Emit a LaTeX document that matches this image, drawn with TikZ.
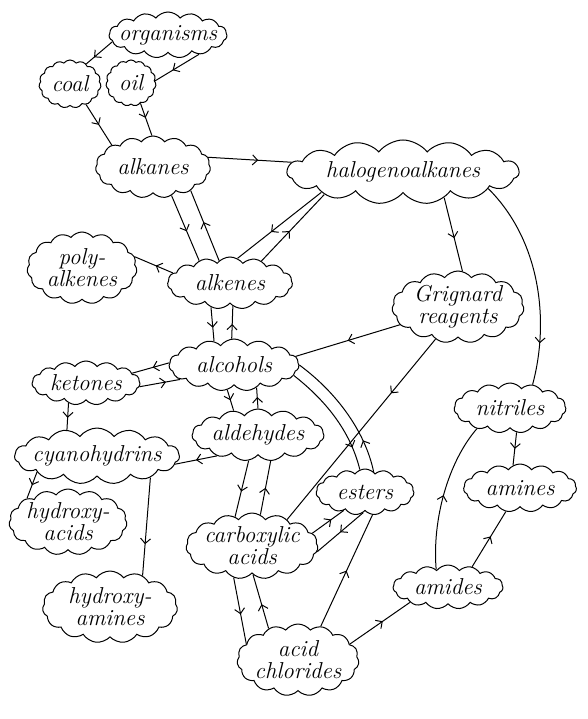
\documentclass[tikz,border=0pt]{standalone}
\usetikzlibrary{shapes.symbols,arrows.meta,decorations.markings}
\tikzset{
  blob/.style={cloud, draw, cloud puffs=15, cloud puff arc=105, cloud ignores aspect,
    inner xsep=-18pt, inner ysep=-5pt, align=center, font=\fontsize{23}{22}\selectfont\itshape},
  arrowat/.style={postaction={decorate}, decoration={markings,
    mark=at position #1 with {\arrow{Straight Barb[length=5pt,width=10pt]}}}},
  arrowat/.default=0.5
}
\begin{document}
\begin{tikzpicture}[x=1pt,y=-1pt,line width=1pt]
\useasboundingbox (0,0) rectangle (588,719);
% clouds
\node[blob,minimum width=118pt,minimum height=46pt] (organisms) at (168,35) {organisms};
\node[blob,minimum width=62pt,minimum height=48pt] (coal) at (70,84) {coal};
\node[blob,minimum width=50pt,minimum height=46pt] (oil) at (131,83) {oil};
\node[blob,minimum width=115pt,minimum height=62pt] (alkanes) at (153,167) {alkanes};
\node[blob,minimum width=232pt,minimum height=64pt] (halogeno) at (403,172) {halogenoalkanes};
\node[blob,minimum width=110pt,minimum height=72pt] (polyalkenes) at (82,268) {poly-\\alkenes};
\node[blob,minimum width=125pt,minimum height=52pt] (alkenes) at (230,283) {alkenes};
\node[blob,minimum width=132pt,minimum height=72pt] (grignard) at (458,307) {Grignard\\reagents};
\node[blob,minimum width=130pt,minimum height=52pt] (alcohols) at (234,365) {alcohols};
\node[blob,minimum width=108pt,minimum height=44pt] (ketones) at (86,383) {ketones};
\node[blob,minimum width=112pt,minimum height=50pt] (nitriles) at (510,408) {nitriles};
\node[blob,minimum width=132pt,minimum height=52pt] (aldehydes) at (258,435) {aldehydes};
\node[blob,minimum width=165pt,minimum height=56pt] (cyano) at (97,456) {cyanohydrins};
\node[blob,minimum width=98pt,minimum height=46pt] (esters) at (365,492) {esters};
\node[blob,minimum width=113pt,minimum height=48pt] (amines) at (520,488) {amines};
\node[blob,minimum width=118pt,minimum height=66pt] (hacids) at (68,522) {hydroxy-\\acids};
\node[blob,minimum width=132pt,minimum height=66pt] (carboxylic) at (252,546) {carboxylic\\acids};
\node[blob,minimum width=135pt,minimum height=72pt] (hamines) at (110,607) {hydroxy-\\amines};
\node[blob,minimum width=110pt,minimum height=44pt] (amides) at (448,587) {amides};
\node[blob,minimum width=122pt,minimum height=72pt] (chlorides) at (298,660) {acid\\chlorides};
% connectors
\draw[arrowat=0.7] (organisms.187) -- (coal.51);
\draw[arrowat=0.6] (organisms.-32) -- (oil.5);
\draw[arrowat] (coal.-52) -- (alkanes.152);
\draw[arrowat=0.45] (oil.-65) -- (alkanes.92);
\draw[arrowat=0.6] (alkanes.10) -- (halogeno.175);
\draw[arrowat=0.55] (alkanes.-57) -- (alkenes.144);
\draw[arrowat=0.55] (alkenes.116) -- (alkanes.-32);
\draw[arrowat=0.6] (halogeno.194) -- (alkenes.73);
\draw[arrowat=0.45] (alkenes.35) -- (halogeno.196);
\draw[arrowat=0.45] (alkenes.170) -- (polyalkenes.12);
\draw[arrowat=0.55] (halogeno.-32) -- (grignard.83);
\draw[arrowat=0.8] (halogeno.-11) .. controls (540,240) and (550,320) .. (nitriles.46);
\draw[arrowat=0.6] (alkenes.232) -- (alcohols.130);
\draw[arrowat=0.45] (alcohols.95) -- (alkenes.-83);
\draw[arrowat] (grignard.197) -- (alcohols.8);
\draw[arrowat=0.3] (grignard.235) -- (carboxylic.37);
\draw[arrowat=0.45] (alcohols.178) -- (ketones.12);
\draw[arrowat=0.65] (ketones.-4) -- (alcohols.195);
\draw[arrowat=0.55] (ketones.229) -- (cyano.139);
\draw[arrowat] (alcohols.-105) -- (aldehydes.135);
\draw[arrowat=0.55] (aldehydes.90) -- (alcohols.-45);
\draw[arrowat=0.8] (alcohols.-10) .. controls (325,400) and (350,430) .. (esters.103);
\draw[arrowat=0.25] (esters.67) .. controls (366,435) and (340,395) .. (alcohols.0);
\draw[arrowat] (aldehydes.207) -- (cyano.-6);
\draw[arrowat] (cyano.195) -- (hacids.150);
\draw[arrowat=0.68] (cyano.-22) -- (hamines.44);
\draw[arrowat=0.55] (aldehydes.250) -- (carboxylic.120);
\draw[arrowat] (carboxylic.75) -- (aldehydes.-64);
\draw[arrowat=0.6] (carboxylic.12) -- (esters.221);
\draw[arrowat] (esters.265) -- (carboxylic.-5);
\draw[arrowat=0.55] (carboxylic.240) -- (chlorides.163);
\draw[arrowat=0.45] (chlorides.133) -- (carboxylic.-88);
\draw[arrowat] (chlorides.56) -- (esters.-72);
\draw[arrowat=0.55] (chlorides.17) -- (amides.202);
\draw[arrowat] (amides.124) .. controls (432,520) and (448,462) .. (nitriles.212);
\draw[arrowat] (nitriles.-75) -- (amines.107);
\draw[arrowat=0.55] (amides.40) -- (amines.239);
\end{tikzpicture}
\end{document}
